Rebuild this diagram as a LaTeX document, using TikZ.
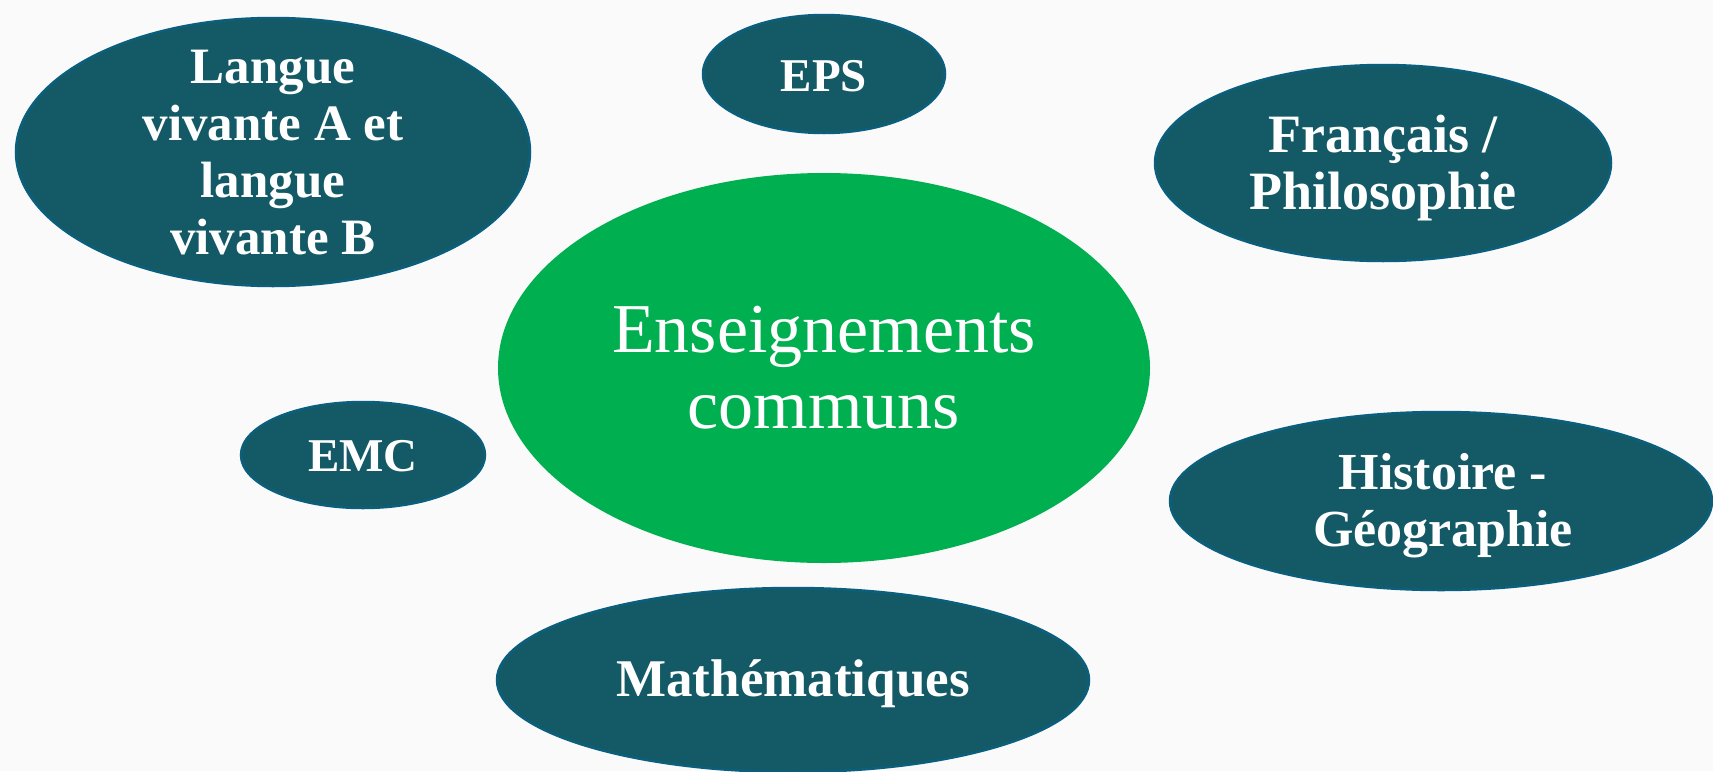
\documentclass[tikz,border=0pt]{standalone}
\usepackage{fontspec}
\setmainfont{Liberation Serif}
\usetikzlibrary{shapes.geometric}
\definecolor{bgc}{HTML}{FAFAFA}
\definecolor{tealfill}{HTML}{135A66}
\definecolor{tealline}{HTML}{0B5F7C}
\definecolor{greenfill}{HTML}{00B050}
\tikzset{
  subj/.style={ellipse, draw=tealline, line width=2.5pt, fill=tealfill, inner sep=0pt},
  subjtext/.style={text=white, inner sep=0pt, align=center},
  core/.style={ellipse, draw=none, fill=greenfill, text=white,
    inner sep=0pt, align=center, font=\fontsize{70}{76}\selectfont}
}
\newcommand{\subjfont}[1]{\fontsize{#1}{57}\selectfont\bfseries}
\begin{document}
\begin{tikzpicture}[x=1pt,y=-1pt]
\useasboundingbox (0,0) rectangle (1713,771);
\fill[bgc] (0,0) rectangle (1713,771);
\clip (0,0) rectangle (1713,771);
\node[core, minimum width=652pt, minimum height=390pt] (core) at (824,368) {Enseignements\\communs};
\node[subj, minimum width=514pt, minimum height=268pt] (lv) at (273,152) {};
\node[subjtext, font=\subjfont{51}] (lvt) at ([yshift=-1pt]lv.center) {Langue\\vivante A et\\langue\\vivante B};
\node[subj, minimum width=242pt, minimum height=118pt] (eps) at (824,74) {};
\node[subjtext, font=\subjfont{47}] (epst) at ([yshift=-2pt]eps.center) {EPS};
\node[subj, minimum width=456pt, minimum height=196pt] (fr) at (1383,163) {};
\node[subjtext, font=\subjfont{54}] (frt) at ([yshift=-5pt]fr.center) {Français /\\Philosophie};
\node[subj, minimum width=244pt, minimum height=106pt] (emc) at (363,455) {};
\node[subjtext, font=\subjfont{47}] (emct) at ([yshift=-1pt]emc.center) {EMC};
\node[subj, minimum width=542pt, minimum height=178pt] (hg) at (1441,501) {};
\node[subjtext, font=\subjfont{52}] (hgt) at ([xshift=2pt,yshift=-5pt]hg.center) {Histoire -\\Géographie};
\node[subj, minimum width=592pt, minimum height=184pt] (math) at (793,680) {};
\node[subjtext, font=\subjfont{53}] (matht) at ([yshift=-4pt]math.center) {Mathématiques};
\end{tikzpicture}
\end{document}
